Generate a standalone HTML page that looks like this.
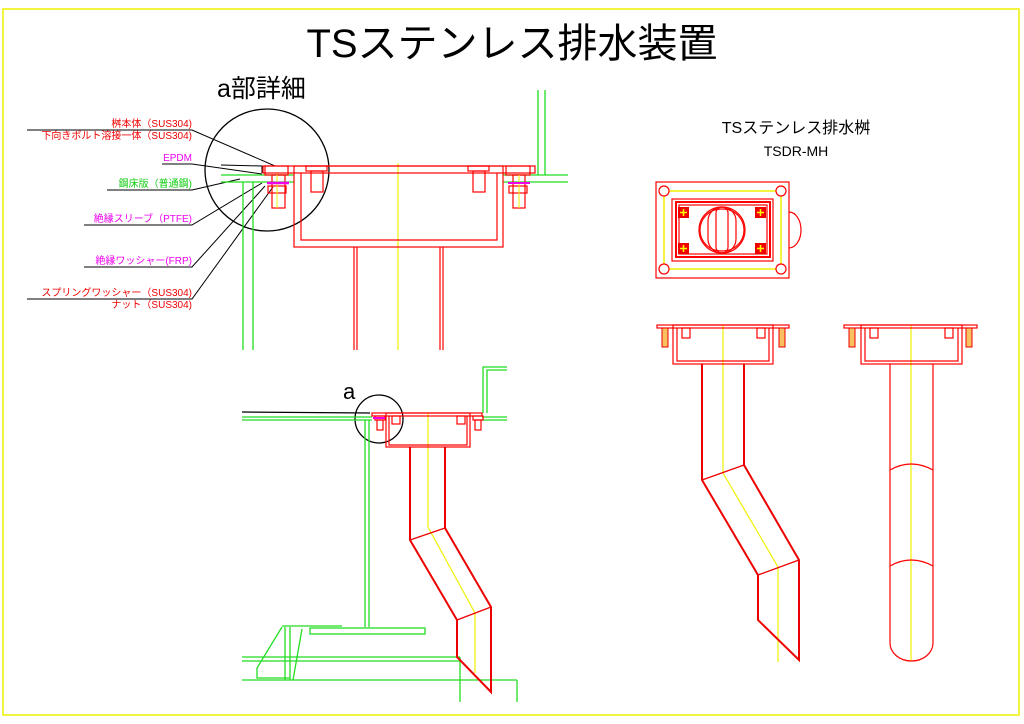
<!DOCTYPE html>
<html><head><meta charset="utf-8"><style>
html,body{margin:0;padding:0;background:#fff;}
svg{display:block;}
text{font-family:"Liberation Sans","Noto Sans CJK JP",sans-serif;}
</style></head><body>
<svg width="1024" height="724" viewBox="0 0 1024 724" xmlns="http://www.w3.org/2000/svg">
<rect x="0" y="0" width="1024" height="724" fill="#fff"/>
<rect x="3" y="9" width="1016" height="706" fill="none" stroke="#f0f000" stroke-width="1.5"/>
<text x="512" y="57" font-size="40" text-anchor="middle" fill="#000">TSステンレス排水装置</text>

<!-- ===== Top-left detail ===== -->
<text x="217" y="97" font-size="25" fill="#000">a部詳細</text>
<ellipse cx="267" cy="170" rx="62" ry="61" fill="none" stroke="#000" stroke-width="1.3"/>
<g font-size="10" text-anchor="end">
<text x="192" y="127" fill="#e00">桝本体（SUS304)</text>
<text x="192" y="139" fill="#e00">下向きボルト溶接一体（SUS304)</text>
<text x="192" y="161" fill="#e0e">EPDM</text>
<text x="192" y="187" fill="#1c1">鋼床版（普通鋼)</text>
<text x="192" y="222" fill="#e0e">絶縁スリーブ（PTFE)</text>
<text x="192" y="264" fill="#e0e">絶縁ワッシャー(FRP)</text>
<text x="192" y="296" fill="#e00">スプリングワッシャー（SUS304)</text>
<text x="192" y="308" fill="#e00">ナット（SUS304)</text>
</g>
<g stroke="#000" stroke-width="1" fill="none">
<polyline points="27,130 192,130 275,166"/>
<polyline points="162,164 192,164 262,174"/>
<polyline points="107,190 192,190 240,179"/>
<polyline points="84,225 192,225 262,183"/>
<polyline points="84,267 192,267 265,186"/>
<polyline points="27,299 192,299 273,187"/>
<polyline points="221,165 262,166 262,173"/>
</g>
<!-- green -->
<g stroke="#22dd22" stroke-width="1.3" fill="none">
<line x1="221" y1="175" x2="294" y2="175"/><line x1="221" y1="182" x2="294" y2="182"/>
<line x1="503" y1="175" x2="568" y2="175"/><line x1="503" y1="182" x2="568" y2="182"/>
<line x1="243" y1="182" x2="243" y2="350"/><line x1="253" y1="182" x2="253" y2="350"/>
<line x1="538" y1="90" x2="538" y2="175"/><line x1="545" y1="90" x2="545" y2="175"/>
</g>
<line x1="398" y1="163" x2="398" y2="350" stroke="#f0f000" stroke-width="1.2"/>
<g stroke="#f00" stroke-width="1.2" fill="none">
<rect x="263" y="166" width="272" height="7"/>
<rect x="294" y="166" width="209" height="81"/>
<polyline points="301,173 301,240 497,240 497,173"/>
<line x1="354" y1="247" x2="354" y2="350"/><line x1="357" y1="247" x2="357" y2="350"/>
<line x1="440" y1="247" x2="440" y2="350"/><line x1="443" y1="247" x2="443" y2="350"/>
<rect x="265" y="166" width="23" height="9"/><rect x="272" y="175" width="13" height="33"/>
<rect x="268" y="186" width="18" height="7"/>
<rect x="306" y="166" width="21" height="5"/><rect x="311" y="171" width="12" height="21"/>
<rect x="468" y="166" width="21" height="5"/><rect x="473" y="171" width="12" height="21"/>
<rect x="506" y="166" width="24" height="9"/><rect x="513" y="175" width="12" height="33"/>
<rect x="509" y="186" width="18" height="7"/>
</g>
<line x1="277" y1="175" x2="277" y2="208" stroke="#f0f000"/><line x1="519" y1="175" x2="519" y2="208" stroke="#f0f000"/>
<line x1="267" y1="183" x2="289" y2="183" stroke="#e0e" stroke-width="2.5"/>
<line x1="508" y1="183" x2="530" y2="183" stroke="#e0e" stroke-width="2"/>

<!-- ===== Bottom-left section ===== -->
<text x="343" y="399" font-size="22" fill="#000">a</text>
<circle cx="379" cy="419" r="24" fill="none" stroke="#000" stroke-width="1.3"/>
<line x1="242" y1="412" x2="370" y2="413" stroke="#000" stroke-width="1.2"/>
<g stroke="#22dd22" stroke-width="1.3" fill="none">
<line x1="242" y1="417" x2="372" y2="417"/><line x1="242" y1="420" x2="372" y2="420"/>
<line x1="482" y1="417" x2="507" y2="417"/><line x1="482" y1="420" x2="507" y2="420"/>
<line x1="365" y1="420" x2="365" y2="627"/><line x1="369" y1="420" x2="369" y2="627"/>
<polyline points="483,413 483,367 507,367"/><polyline points="487,413 487,370 507,370"/>
<rect x="310" y="628" width="115" height="6"/>
<line x1="282" y1="626" x2="342" y2="626"/>
<polyline points="282,627 257,668 257,678 290,678"/>
<line x1="285" y1="627" x2="285" y2="680"/><line x1="290" y1="627" x2="290" y2="680"/>
<line x1="302" y1="629" x2="293" y2="680"/>
<line x1="242" y1="657" x2="460" y2="657"/><line x1="242" y1="661" x2="460" y2="661"/>
<line x1="242" y1="680" x2="517" y2="680"/>
<line x1="460" y1="657" x2="460" y2="702"/><line x1="517" y1="680" x2="517" y2="702"/>
</g>
<polyline points="428,413 428,527 475,613 475,673" fill="none" stroke="#f0f000" stroke-width="1.2"/>
<g stroke="#f00" stroke-width="1.2" fill="none">
<rect x="372" y="413" width="110" height="3"/>
<rect x="386" y="413" width="84" height="34"/>
<polyline points="389,416 389,445 467,445 467,416"/>
<rect x="375" y="416" width="10" height="4"/><rect x="377" y="420" width="6" height="10"/>
<rect x="392" y="416" width="8" height="8"/><rect x="457" y="416" width="8" height="8"/>
<rect x="473" y="416" width="10" height="4"/><rect x="475" y="420" width="6" height="10"/>
</g>
<g stroke="#e00" stroke-width="2" fill="none" stroke-linejoin="miter">
<polyline points="410,447 410,540 457,620 457,657 491,692 491,607 445,528 445,447"/>
<line x1="410" y1="540" x2="445" y2="528" stroke-width="1.3"/>
<line x1="457" y1="620" x2="491" y2="607" stroke-width="1.3"/>
</g>
<line x1="373" y1="418" x2="385" y2="418" stroke="#e0e" stroke-width="2"/>

<!-- ===== Right side ===== -->
<text x="796" y="133" font-size="16" text-anchor="middle" fill="#000">TSステンレス排水桝</text>
<text x="796" y="156" font-size="14" text-anchor="middle" fill="#000">TSDR-MH</text>
<!-- plan -->
<path d="M789,212 A12,18 0 0 1 789,248" fill="none" stroke="#f00" stroke-width="1.2"/>
<rect x="656" y="182" width="133" height="96" fill="#fff" stroke="#f00" stroke-width="1.2"/>
<rect x="664" y="191" width="117" height="78" fill="none" stroke="#f0f000" stroke-width="1.5"/>
<g fill="#fff" stroke="#f00" stroke-width="1.2">
<circle cx="664" cy="191" r="5"/><circle cx="781" cy="191" r="5"/>
<circle cx="664" cy="269" r="5"/><circle cx="781" cy="269" r="5"/>
</g>
<g fill="none" stroke="#f00" stroke-width="1.2">
<rect x="672" y="199" width="101" height="62"/>
<rect x="676" y="202" width="94" height="55" stroke-width="2"/>
<rect x="679" y="205" width="88" height="49"/>
<circle cx="722" cy="230" r="23"/>
<rect x="700" y="209" width="44" height="42" rx="21"/>
<rect x="708" y="207" width="28" height="46" rx="14"/>
<rect x="716" y="207" width="12" height="46" rx="6"/>
</g>
<g fill="#e00"><rect x="678" y="207" width="11" height="11"/><rect x="755" y="207" width="11" height="11"/>
<rect x="678" y="243" width="11" height="11"/><rect x="755" y="243" width="11" height="11"/></g>
<g stroke="#ff0" stroke-width="1.5">
<path d="M680,212.5h7M683.5,209v7M757,212.5h7M760.5,209v7M680,248.5h7M683.5,245v7M757,248.5h7M760.5,245v7"/>
</g>
<!-- elevation left -->
<polyline points="723,325 723,473 778,567 778,662" fill="none" stroke="#f0f000" stroke-width="1.2"/>
<g stroke="#f00" stroke-width="1.2" fill="none">
<rect x="657" y="325" width="132" height="3"/>
<rect x="673" y="325" width="100" height="39"/>
<polyline points="677,328 677,361 769,361 769,328"/>
<rect x="682" y="328" width="8" height="10"/><rect x="757" y="328" width="8" height="10"/>
</g>
<g stroke="#e00" fill="#f7c060" stroke-width="1"><rect x="662" y="328" width="6" height="19"/><rect x="779" y="328" width="6" height="19"/></g>
<g stroke="#e00" stroke-width="2" fill="none">
<polyline points="702,364 702,480 758,575 758,620 799,660 799,560 744,465 744,364"/>
<line x1="702" y1="480" x2="744" y2="465" stroke-width="1.3"/>
<line x1="758" y1="575" x2="799" y2="560" stroke-width="1.3"/>
</g>
<!-- elevation right -->
<line x1="911" y1="325" x2="911" y2="661" stroke="#f0f000" stroke-width="1.2"/>
<g stroke="#f00" stroke-width="1.2" fill="none">
<rect x="844" y="325" width="133" height="3"/>
<rect x="861" y="325" width="101" height="39"/>
<polyline points="865,328 865,361 958,361 958,328"/>
<rect x="870" y="328" width="8" height="10"/><rect x="945" y="328" width="8" height="10"/>
<path d="M890,364 V643 A21.5,18 0 0 0 933,643 V364"/>
<path d="M890,470 Q911,458 933,470"/>
<path d="M890,566 Q911,554 933,566"/>
</g>
<g stroke="#e00" fill="#f7c060" stroke-width="1"><rect x="849" y="328" width="6" height="19"/><rect x="966" y="328" width="6" height="19"/></g>
</svg>
</body></html>
